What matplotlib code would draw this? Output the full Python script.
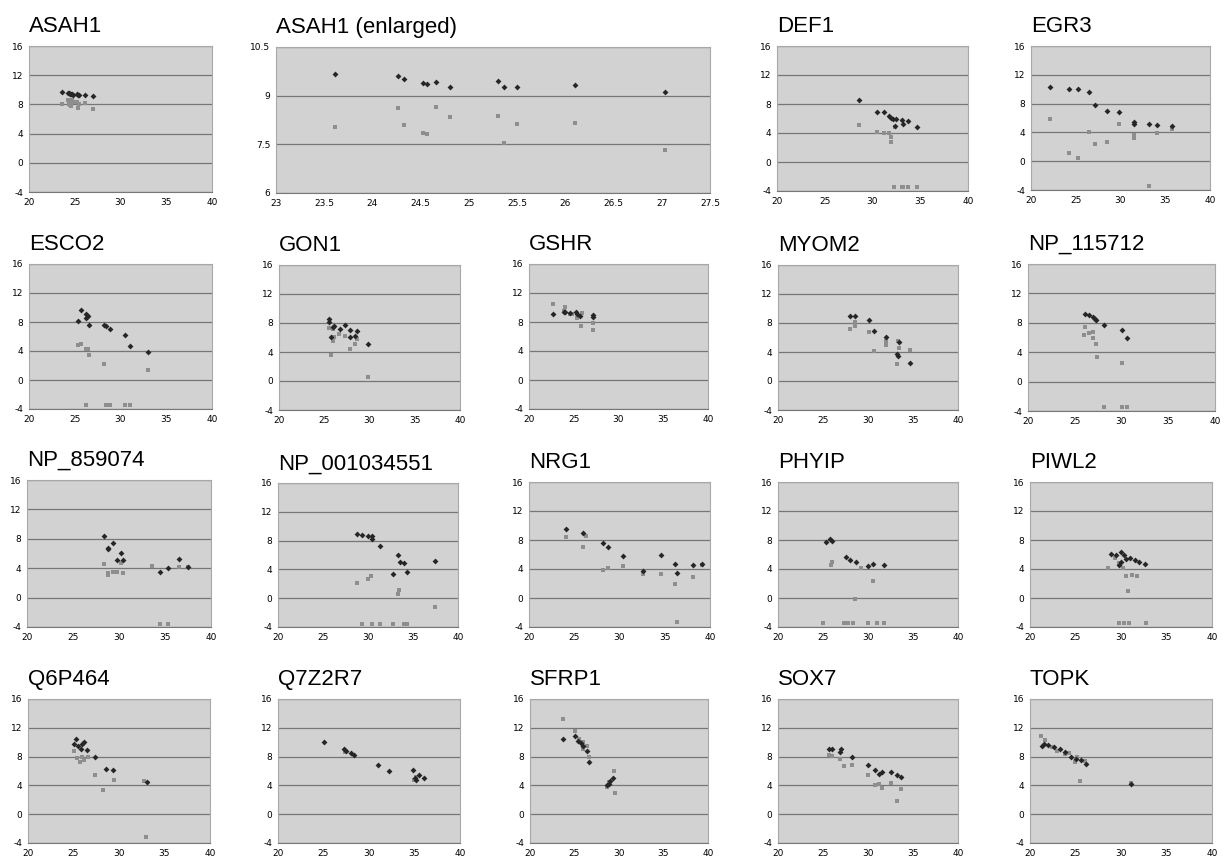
import matplotlib
matplotlib.use("Agg")
import matplotlib.pyplot as plt

plt.rcParams["axes.unicode_minus"] = False

W, H = 1225, 861

# ---------------- data (Ct value vs. log expression) ----------------
ASAH1_XD = [23.61, 24.27, 24.33, 24.52, 24.57, 24.66, 24.80, 25.30, 25.36, 25.50, 26.10, 27.03]
ASAH1_YD = [9.68, 9.60, 9.51, 9.39, 9.36, 9.42, 9.27, 9.44, 9.28, 9.28, 9.34, 9.10]
ASAH1_XG = [23.61, 24.27, 24.33, 24.52, 24.57, 24.66, 24.80, 25.30, 25.36, 25.50, 26.10, 27.03]
ASAH1_YG = [8.02, 8.62, 8.10, 7.85, 7.82, 8.64, 8.34, 8.37, 7.53, 8.12, 8.15, 7.33]

DEF1_XD = [28.6, 30.5, 31.2, 31.7, 31.9, 32.1, 32.5, 33.1, 33.2, 33.7, 34.7, 32.4]
DEF1_YD = [8.6, 6.9, 6.9, 6.3, 6.1, 6.0, 6.0, 5.8, 5.3, 5.7, 4.8, 4.9]
DEF1_XG = [28.6, 30.5, 31.2, 31.7, 31.9, 31.95, 32.4, 32.2, 33.05, 33.2, 33.7, 34.7]
DEF1_YG = [5.15, 4.1, 4.0, 4.0, 3.45, 2.8, 4.8, -3.45, -3.45, -3.45, -3.45, -3.45]

EGR3_XD = [22.1, 24.3, 25.3, 26.5, 27.1, 28.5, 29.8, 31.5, 31.5, 33.2, 34.1, 35.7]
EGR3_YD = [10.3, 10.0, 10.0, 9.6, 7.8, 7.0, 6.8, 5.5, 5.2, 5.2, 5.05, 4.95]
EGR3_XG = [22.1, 24.3, 25.3, 26.5, 27.1, 28.5, 29.8, 31.5, 31.5, 33.2, 34.1, 35.7]
EGR3_YG = [5.9, 1.1, 0.5, 4.1, 2.4, 2.7, 5.15, 3.7, 3.25, -3.5, 3.95, 4.5]

ESCO2_XD = [25.35, 25.7, 26.2, 26.2, 26.4, 26.6, 28.2, 28.45, 28.8, 30.5, 31.0, 33.0]
ESCO2_YD = [8.2, 9.7, 9.1, 8.5, 8.85, 7.6, 7.6, 7.4, 7.05, 6.25, 4.7, 3.85]
ESCO2_XG = [25.35, 25.7, 26.2, 26.5, 26.6, 28.2, 33.0, 26.2, 28.45, 28.8, 30.5, 31.0]
ESCO2_YG = [4.85, 4.9, 4.25, 4.25, 3.5, 2.15, 1.4, -3.5, -3.5, -3.5, -3.5, -3.5]

GON1_XD = [25.55, 25.55, 25.7, 26.0, 26.1, 26.7, 27.3, 27.8, 27.8, 28.4, 28.6, 29.8]
GON1_YD = [8.5, 8.2, 6.0, 7.45, 7.6, 7.2, 7.7, 7.1, 6.1, 6.25, 6.85, 5.15]
GON1_XG = [25.5, 25.7, 25.95, 26.1, 26.65, 27.3, 27.8, 28.4, 28.6, 29.8, 26.0]
GON1_YG = [7.35, 3.6, 5.55, 6.1, 6.5, 6.25, 4.35, 5.1, 5.8, 0.6, 7.2]

GSHR_XD = [22.7, 23.9, 24.0, 24.55, 25.25, 25.4, 25.75, 27.15, 27.15]
GSHR_YD = [9.1, 9.4, 9.35, 9.2, 9.4, 9.05, 8.85, 9.0, 8.65]
GSHR_XG = [22.7, 24.0, 23.9, 24.6, 24.85, 25.4, 25.9, 25.85, 27.15, 27.15]
GSHR_YG = [10.5, 10.05, 9.5, 9.1, 9.1, 8.5, 9.2, 7.5, 7.85, 6.9]

MYOM2_XD = [28.0, 28.6, 30.1, 30.7, 32.05, 33.45, 33.2, 33.3, 34.7]
MYOM2_YD = [9.0, 8.9, 8.45, 6.95, 6.05, 5.4, 3.7, 3.45, 2.5]
MYOM2_XG = [28.0, 28.6, 28.6, 30.1, 30.7, 32.05, 32.05, 33.45, 33.35, 34.7, 33.2]
MYOM2_YG = [7.2, 8.1, 7.55, 6.75, 4.2, 5.45, 4.9, 4.5, 5.5, 4.25, 2.35]

NP115712_XD = [26.05, 26.55, 26.95, 27.2, 27.3, 28.15, 30.0, 30.6]
NP115712_YD = [9.25, 9.0, 8.75, 8.55, 8.35, 7.75, 7.0, 6.0]
NP115712_XG = [26.05, 26.0, 26.55, 26.95, 26.95, 27.3, 27.4, 30.0, 28.15, 30.0, 30.6]
NP115712_YG = [7.4, 6.4, 6.55, 6.75, 5.95, 5.1, 3.4, 2.5, -3.5, -3.5, -3.5]

NP859074_XD = [28.35, 28.75, 28.75, 29.3, 29.8, 30.2, 30.45, 34.5, 35.3, 36.5, 37.5]
NP859074_YD = [8.4, 6.75, 6.55, 7.4, 5.1, 6.1, 5.05, 3.45, 4.05, 5.2, 4.15]
NP859074_XG = [28.35, 28.75, 28.75, 29.3, 29.8, 30.2, 30.45, 33.55, 34.5, 35.3, 36.5, 37.5]
NP859074_YG = [4.6, 3.35, 3.1, 3.5, 3.55, 4.7, 3.35, 4.25, -3.65, -3.65, 4.15, 4.15]

NP001034551_XD = [28.8, 29.35, 30.05, 30.45, 30.4, 31.35, 33.35, 33.5, 34.0, 32.8, 34.35, 37.4]
NP001034551_YD = [8.95, 8.8, 8.65, 8.6, 8.25, 7.25, 6.0, 5.05, 4.85, 3.4, 3.6, 5.1]
NP001034551_XG = [28.8, 30.05, 30.35, 33.35, 33.45, 37.4, 29.35, 30.45, 31.35, 32.8, 34.0, 34.35]
NP001034551_YG = [2.05, 2.7, 3.15, 0.65, 1.1, -1.2, -3.55, -3.55, -3.55, -3.55, -3.55, -3.55]

NRG1_XD = [24.05, 26.0, 28.2, 28.75, 30.4, 32.65, 34.6, 36.1, 36.4, 38.1, 39.15]
NRG1_YD = [9.55, 8.9, 7.6, 7.1, 5.85, 3.75, 5.95, 4.75, 3.45, 4.5, 4.75]
NRG1_XG = [24.05, 26.3, 26.0, 28.2, 28.75, 30.4, 32.65, 34.6, 36.1, 36.4, 38.1, 39.15]
NRG1_YG = [8.45, 8.5, 7.0, 3.85, 4.2, 4.35, 3.35, 3.3, 1.9, -3.35, 2.9, 4.55]

PHYIP_XD = [25.3, 25.8, 26.0, 27.6, 28.0, 28.7, 30.0, 30.5, 31.8]
PHYIP_YD = [7.7, 8.2, 7.9, 5.7, 5.3, 5.0, 4.4, 4.7, 4.5]
PHYIP_XG = [25.0, 25.9, 26.0, 27.3, 27.8, 28.3, 28.6, 29.2, 30.0, 30.5, 31.0, 31.8]
PHYIP_YG = [-3.5, 4.5, 5.0, -3.5, -3.5, -3.5, -0.2, 4.2, -3.5, 2.3, -3.5, -3.5]

PIWL2_XD = [28.9, 29.5, 30.0, 30.3, 30.5, 31.0, 31.5, 32.0, 32.6, 30.0, 29.8]
PIWL2_YD = [6.1, 6.0, 6.3, 5.9, 5.4, 5.5, 5.2, 5.0, 4.7, 5.0, 4.6]
PIWL2_XG = [28.6, 29.3, 29.8, 30.2, 30.5, 30.8, 31.2, 31.8, 29.8, 30.3, 30.9, 32.8]
PIWL2_YG = [4.2, 5.5, 4.8, 4.2, 3.0, 1.0, 3.2, 3.0, -3.5, -3.5, -3.5, -3.5]

Q6P464_XD = [25.0, 25.3, 25.5, 25.8, 26.2, 26.5, 27.4, 28.6, 29.3, 33.1, 25.9]
Q6P464_YD = [9.8, 10.5, 9.5, 9.0, 10.0, 8.9, 7.9, 6.3, 6.2, 4.5, 9.8]
Q6P464_XG = [25.1, 25.4, 25.7, 26.1, 26.6, 27.4, 28.2, 29.5, 32.7, 33.0, 25.9]
Q6P464_YG = [8.8, 7.8, 7.3, 7.5, 7.9, 5.4, 3.3, 4.8, 4.6, -3.2, 8.0]

Q7Z2R7_XD = [25.0, 27.3, 27.5, 28.0, 28.4, 31.0, 32.2, 34.8, 35.0, 35.2, 35.5, 36.0]
Q7Z2R7_YD = [10.0, 9.0, 8.8, 8.5, 8.2, 6.8, 6.0, 6.2, 5.0, 4.7, 5.5, 5.0]
Q7Z2R7_XG = [27.4, 34.9, 35.2]
Q7Z2R7_YG = [8.7, 4.7, 5.2]

SFRP1_XD = [23.7, 25.0, 25.4, 25.7, 26.0, 26.4, 26.6, 28.7, 29.0, 29.3, 28.9]
SFRP1_YD = [10.4, 10.8, 10.1, 9.9, 9.5, 8.8, 7.2, 4.1, 4.6, 5.0, 4.2]
SFRP1_XG = [23.7, 25.0, 25.5, 25.9, 26.0, 26.4, 26.6, 28.7, 28.9, 29.4, 29.5]
SFRP1_YG = [13.2, 11.5, 10.4, 10.0, 9.0, 9.5, 8.0, 3.8, 4.5, 6.0, 3.0]

SOX7_XD = [25.7, 26.0, 26.9, 27.0, 28.2, 30.0, 30.8, 31.5, 32.5, 33.2, 33.7, 31.2]
SOX7_YD = [9.1, 9.1, 8.6, 9.0, 7.9, 6.8, 6.2, 5.9, 5.9, 5.5, 5.1, 5.6]
SOX7_XG = [25.7, 26.0, 26.9, 27.3, 28.2, 30.0, 30.8, 31.5, 32.5, 33.2, 33.7, 31.2]
SOX7_YG = [8.2, 8.1, 7.7, 6.7, 6.8, 5.5, 4.0, 3.6, 4.4, 1.8, 3.5, 4.2]

TOPK_XD = [21.3, 21.5, 22.0, 22.6, 23.3, 23.8, 24.5, 25.0, 25.6, 26.1, 31.1]
TOPK_YD = [9.5, 9.8, 9.6, 9.3, 9.0, 8.7, 8.0, 7.7, 7.5, 7.0, 4.2]
TOPK_XG = [21.2, 21.6, 22.4, 23.0, 23.8, 24.3, 24.9, 25.2, 25.5, 26.0, 31.1]
TOPK_YG = [10.9, 10.3, 9.3, 8.8, 8.3, 8.5, 7.3, 8.0, 4.6, 7.4, 4.4]

TITLES = ["ASAH1", "ASAH1 (enlarged)", "DEF1", "EGR3",
          "ESCO2", "GON1", "GSHR", "MYOM2", "NP_115712",
          "NP_859074", "NP_001034551", "NRG1", "PHYIP", "PIWL2",
          "Q6P464", "Q7Z2R7", "SFRP1", "SOX7", "TOPK"]

SERIES = [
    (ASAH1_XD, ASAH1_YD, ASAH1_XG, ASAH1_YG),
    (ASAH1_XD, ASAH1_YD, ASAH1_XG, ASAH1_YG),
    (DEF1_XD, DEF1_YD, DEF1_XG, DEF1_YG),
    (EGR3_XD, EGR3_YD, EGR3_XG, EGR3_YG),
    (ESCO2_XD, ESCO2_YD, ESCO2_XG, ESCO2_YG),
    (GON1_XD, GON1_YD, GON1_XG, GON1_YG),
    (GSHR_XD, GSHR_YD, GSHR_XG, GSHR_YG),
    (MYOM2_XD, MYOM2_YD, MYOM2_XG, MYOM2_YG),
    (NP115712_XD, NP115712_YD, NP115712_XG, NP115712_YG),
    (NP859074_XD, NP859074_YD, NP859074_XG, NP859074_YG),
    (NP001034551_XD, NP001034551_YD, NP001034551_XG, NP001034551_YG),
    (NRG1_XD, NRG1_YD, NRG1_XG, NRG1_YG),
    (PHYIP_XD, PHYIP_YD, PHYIP_XG, PHYIP_YG),
    (PIWL2_XD, PIWL2_YD, PIWL2_XG, PIWL2_YG),
    (Q6P464_XD, Q6P464_YD, Q6P464_XG, Q6P464_YG),
    (Q7Z2R7_XD, Q7Z2R7_YD, Q7Z2R7_XG, Q7Z2R7_YG),
    (SFRP1_XD, SFRP1_YD, SFRP1_XG, SFRP1_YG),
    (SOX7_XD, SOX7_YD, SOX7_XG, SOX7_YG),
    (TOPK_XD, TOPK_YD, TOPK_XG, TOPK_YG),
]

X_TICKS = [20, 25, 30, 35, 40]
Y_TICKS = [-4, 0, 4, 8, 12, 16]
X_TICKS_ENL = [23, 23.5, 24, 24.5, 25, 25.5, 26, 26.5, 27, 27.5]
Y_TICKS_ENL = [6, 7.5, 9, 10.5]

# panel boxes in pixels: (left, right, top, bottom)
BOXES = [
    (29, 212, 46, 192), (276, 710, 47, 193), (777, 968, 46, 191), (1031, 1210, 46, 190),
    (29, 212, 264, 409), (279, 460, 265, 410), (529, 708, 264, 409), (778, 958, 265, 410), (1028, 1215, 264, 411),
    (27, 211, 480, 627), (278, 458, 483, 627), (529, 710, 482, 627), (778, 958, 482, 627), (1030, 1212, 482, 627),
    (28, 210, 699, 843), (278, 460, 699, 843), (530, 708, 699, 843), (778, 958, 699, 843), (1030, 1212, 699, 843),
]

BG = "#d2d2d2"
GRID = "#767676"
DARK = "#262626"
GREY = "#8e8e8e"

fig = plt.figure(figsize=(W / 100, H / 100), dpi=100)
fig.patch.set_facecolor("white")

for i, (title, (xd, yd, xg, yg), (l, r, t, b)) in enumerate(zip(TITLES, SERIES, BOXES)):
    ax = fig.add_axes([l / W, 1 - b / H, (r - l) / W, (b - t) / H])
    ax.set_facecolor(BG)
    enlarged = (i == 1)
    if enlarged:
        ax.set_xlim(23, 27.5)
        ax.set_ylim(6, 10.5)
        ax.set_xticks(X_TICKS_ENL)
        ax.set_xticklabels([f"{v:g}" for v in X_TICKS_ENL])
        ax.set_yticks(Y_TICKS_ENL)
        ax.set_yticklabels([f"{v:g}" for v in Y_TICKS_ENL])
    else:
        ax.set_xlim(20, 40)
        ax.set_ylim(-4, 16)
        ax.set_xticks(X_TICKS)
        ax.set_yticks(Y_TICKS)
    ax.yaxis.grid(True, color=GRID, linewidth=0.9)
    ax.xaxis.grid(False)
    ax.set_axisbelow(True)
    for s in ax.spines.values():
        s.set_color("#a8a8a8")
        s.set_linewidth(0.8)
    ax.spines["bottom"].set_color("#777777")
    ax.tick_params(length=0, labelsize=6.5, pad=4, colors="black")
    ax.plot(xg, yg, linestyle="none", marker="s", markersize=3.5,
            color=GREY, markeredgewidth=0, zorder=3)
    ax.plot(xd, yd, linestyle="none", marker="D", markersize=3.0,
            color=DARK, markeredgewidth=0, zorder=4)
    ax.text(0.0, 1.06, title, transform=ax.transAxes, ha="left", va="bottom",
            fontsize=16, family="Liberation Sans", color="black")

fig.savefig("out.png", dpi=100, facecolor="white")
